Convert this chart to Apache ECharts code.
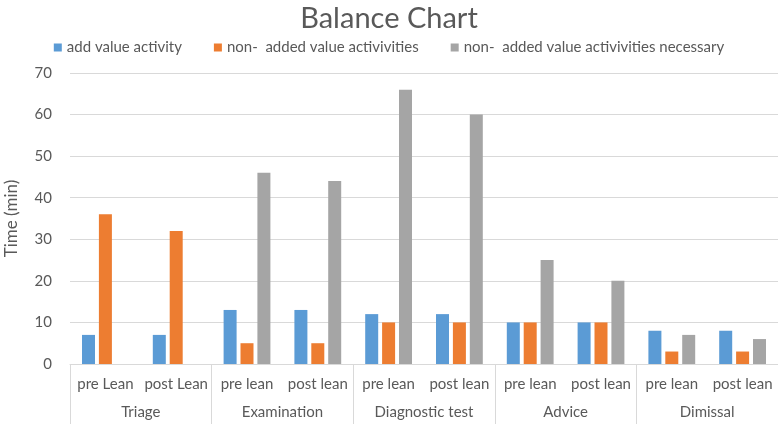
<!DOCTYPE html>
<html><head><meta charset="utf-8">
<script src="https://cdn.jsdelivr.net/npm/echarts@6/dist/echarts.min.js"></script>
<style>html,body{margin:0;padding:0;background:#fff}#c{width:778px;height:424px}</style>
</head><body><div id="c"></div>
<script>
const subCategories = ['pre Lean','post Lean','pre lean','post lean','pre lean','post lean','pre lean','post lean','pre lean','post lean'];
const groups = ['Triage','Examination','Diagnostic test','Advice','Dimissal'];
const seriesNames = ['add value activity','non-  added value activivities','non-  added value activivities necessary'];
const addValue = [7,7,13,13,12,12,10,10,8,8];
const nonAdded = [36,32,5,5,10,10,10,10,3,3];
const nonAddedNecessary = [0,0,46,44,66,60,25,20,7,6];
const yTicks = {min:0,max:70,interval:10};

const font = 'Lato, "Open Sans", sans-serif';
const txt = '#595959';
const chart = echarts.init(document.getElementById('c'), null, {renderer:'canvas'});
const colors = ['#5B9BD5','#ED7D31','#A5A5A5'];
const vals = [addValue, nonAdded, nonAddedNecessary];
chart.setOption({
  animation:false,
  textStyle:{fontFamily:font},
  title:{text:'Balance Chart',left:'center',top:-1,textStyle:{fontFamily:font,fontSize:29,fontWeight:'normal',color:txt}},
  legend:{top:35,left:'center',itemWidth:8,itemHeight:8,itemGap:32,icon:'rect',
    textStyle:{fontFamily:font,fontSize:15,color:txt},data:seriesNames},
  grid:{left:70,right:0,top:73,bottom:60,containLabel:false,outerBoundsMode:'none'},
  xAxis:[
    {type:'category',data:subCategories,position:'bottom',
     axisLine:{lineStyle:{color:'#D9D9D9'}},axisTick:{show:false},
     axisLabel:{color:txt,fontSize:15,fontFamily:font,margin:13,interval:0}},
    {type:'category',data:groups,position:'bottom',
     axisLine:{show:false},axisTick:{show:true,length:60,lineStyle:{color:'#D9D9D9'}},
     axisLabel:{color:txt,fontSize:15,fontFamily:font,margin:41,interval:0}}
  ],
  yAxis:{type:'value',min:yTicks.min,max:yTicks.max,interval:yTicks.interval,
    name:'Time (min)',nameLocation:'middle',nameGap:50,nameRotate:90,
    nameTextStyle:{color:txt,fontSize:17,fontFamily:font},
    axisLine:{show:false},axisTick:{show:false},
    axisLabel:{color:txt,fontSize:15,fontFamily:font,margin:18},
    splitLine:{lineStyle:{color:'#D9D9D9'}}},
  series:seriesNames.map((n,i)=>({name:n,type:'bar',xAxisIndex:0,data:vals[i],
    barWidth:13,barGap:'30%',itemStyle:{color:colors[i]}}))
});
</script></body></html>
